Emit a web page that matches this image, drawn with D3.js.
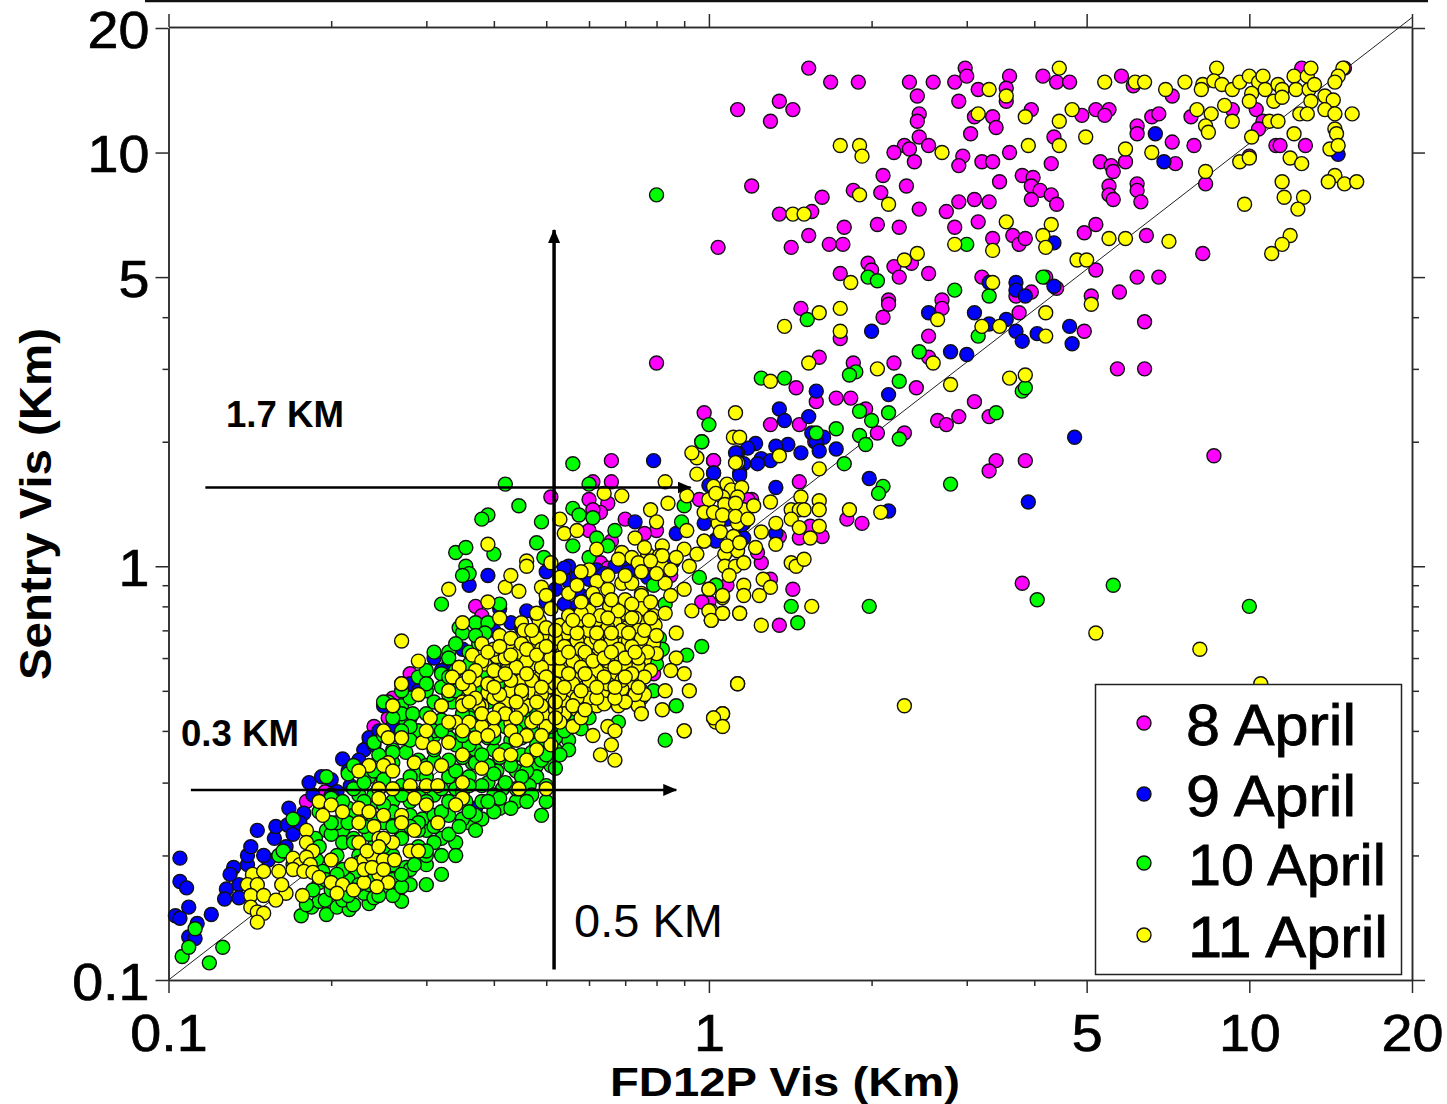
<!DOCTYPE html>
<html>
<head>
<meta charset="utf-8">
<title>Sentry vs FD12P visibility</title>
<script src="https://cdnjs.cloudflare.com/ajax/libs/d3/7.8.5/d3.min.js"></script>
<style>
body { margin: 0; background: #fff; }
svg { display: block; font-family: "Liberation Sans", Arial, sans-serif; }
.axis path, .axis line { stroke: #2b2b2b; stroke-width: 1.5; }
.axis text { font-size: 52px; fill: #000; stroke: #000; stroke-width: 0.7; }
</style>
</head>
<body>
<svg id="chart"></svg>
<script>
"use strict"

const WIDTH = 1447;
const HEIGHT = 1104;
const FRAME = { left: 168.5, right: 1412, top: 28, bottom: 980 };
const POINT_R = 7;

const MAJOR_TICKS = [0.1, 1, 5, 10, 20];
const MINOR_TICKS = [0.2, 0.3, 0.4, 0.5, 0.6, 0.7, 0.8, 0.9, 2, 3, 4];
const LEGEND_NAMES = ["8 April", "9 April", "10 April", "11 April"];
const COLORS = ["#ff00ff", "#0000ff", "#00ff00", "#ffff00"];
const REF_LINE = [[0.1, 0.1], [20, 21.2]];

// [FD12P km, Sentry km]
const APRIL_8 = [
[1.53,16],[1.68,14.8],[1.89,14.8],[2.35,14.8],[2.6,14.8],[2.85,14.8],[2.98,16],[3,15.3],[3.6,15.3],[4.15,15.3],[4.4,14.8],[4.65,14.8],
[5.8,15.3],[6.1,14.5],[2.43,13.7],[2.9,13.3],[3.15,14.2],[3.55,14.3],[3.55,13.3],[1.35,13.3],[1.43,12.7],[1.13,12.7],[1.3,11.9],
[2.45,12.4],[2.43,11.9],[3.1,12.2],[3.35,12.2],[3.4,11.5],[3.95,12.7],[3.05,11.1],[4.9,12.3],[5.2,12.7],[5.5,12.7],[5.4,12.3],
[4.35,10.9],[2.45,10.9],[2.55,10.4],[2.3,10.4],[2.2,10],[2.35,10.2],[2.4,9.5],[2.95,9.8],[2.9,9.3],[3.2,9.5],[3.35,9.5],[3.6,10],[4.3,9.4],
[2.1,8.8],[1.2,8.3],[1.85,8.1],[2.08,8],[2.32,8.3],[1.62,7.8],[1.55,7.2],[1.35,7.1],[3.45,8.5],[3.8,8.8],[3.98,8.7],[3.95,8.3],[4.1,8.1],
[4.3,7.9],[3.95,7.7],[4.4,7.5],[5.3,9.5],[5.55,9.3],[5.6,9],[5.9,9.5],[5.5,8.3],[5.5,7.9],[5.6,7.7],[6.2,8.4],[6.2,8.1],[6.3,7.6],
[3.1,7.7],[3.3,7.6],[2.9,7.6],[2.75,7.2],[2.45,7.3],[3.15,6.8],[2.85,6.6],[2.25,6.6],[2.05,6.7],[1.78,6.6],[1.53,6.3],[1.42,5.9],[1.67,6],
[1.77,6],[1.04,5.9],[3.35,6.2],[3.65,6.3],[3.75,6],[3.85,6.2],[4.95,6.4],[5.2,6.7],[6.45,6.3],[8.2,5.7],[6.2,11.6],[6.2,11.1],[6.6,12.2],
[6.8,12.4],[7.2,10.6],[7.9,10.4],[7.3,9.4],[7.8,12.2],[7.2,13.7],[8.3,8.4],[9.3,12.7],[10.3,12.7],[10.6,11.9],[10.4,11.4],[10,9.8],
[11.2,10.4],[11.4,10.4],[12.7,10.4],[12.5,16],[15,16],[1.97,5.4],[2,5.2],[1.75,5.1],[2.2,5.3],[2.25,5],[2.37,5.4],[2.55,5.1],[3.2,5],
[4.2,5],[4.4,4.7],[3.95,4.6],[3.7,4.5],[5.2,5.2],[6.2,5],[6.8,5],[5.75,4.6],[5.1,4.5],[2.15,4.4],[2.7,4.4],[1.48,4.2],[2.15,4.3],[2.1,4],
[2.7,4.2],[3.75,4.1],[4.95,3.7],[6.4,3.9],[1.75,3.55],[2.55,3.6],[1.6,3.2],[1.85,3.1],[2.2,3.1],[2.55,3.2],[5.7,3],[6.4,3],[1.45,2.7],
[1.58,2.5],[1.72,2.55],[1.83,2.55],[1.95,2.4],[2.42,2.7],[3.1,2.5],[2.9,2.3],[2.65,2.25],[2.75,2.2],[3.3,2.3],[1.3,2.2],[1.47,2.2],
[2.05,2.1],[2.3,2.1],[1.57,2],[3.4,1.8],[3.3,1.7],[3.85,1.8],[8.6,1.85],[0.98,2.35],[1.02,1.8],[1.47,1.6],[1.2,1.45],[1.8,1.3],[1.92,1.27],
[1.54,1.25],[1.47,1.17],[1.62,1.18],[1.35,1.18],[1.25,1.02],[1.23,1.08],[1.3,0.93],[1.08,0.9],[1.43,0.88],[3.8,0.91],[1.35,0.72],[1,0.82],
[0.8,3.1],[0.66,1.8],[0.51,1.47],[0.61,1.6],[0.66,1.6],[0.6,1.45],[0.65,1.42],[0.63,1.35],[0.61,1.37],[0.7,1.3],[0.6,1.22],[0.66,1.15],
[0.63,1.02],[0.65,0.99],[0.76,1],[0.8,1.22],[0.76,1.2],[0.85,0.95],[0.96,1.45],[1.02,1.8],[1.18,1.45],[0.97,0.82],[0.7,0.48],[0.79,0.55],
[0.37,0.8],[0.38,0.76],[0.28,0.55],[0.26,0.48],[0.255,0.43],[0.24,0.41],[0.18,0.27],[0.195,0.285]
];

const APRIL_9 = [
[6.7,11.1],[6.95,9.5],[14.6,9.9],[4.35,6.05],[3.3,4.85],[3.7,4.85],[3.7,4.65],[3.85,4.5],[4.35,4.75],[2.55,4.1],[3.1,4.1],[3.3,3.85],
[3.55,3.95],[3.7,3.7],[3.8,3.5],[4.05,3.65],[4.65,3.8],[4.7,3.45],[2,3.7],[2.8,3.3],[3,3.25],[2.15,2.6],[1.58,2.65],[1.35,2.4],[1.38,2.25],
[1.53,2.3],[1.55,2.1],[1.63,2.05],[1.58,2],[1.6,1.9],[1.72,1.92],[1.48,1.88],[1.4,1.97],[1.33,1.95],[1.22,1.98],[1.18,1.93],[1.13,1.88],
[1.25,1.82],[1.3,1.8],[1.23,1.77],[1.16,1.77],[1.14,1.68],[1.02,1.68],[1.33,1.55],[1.98,1.63],[2.15,1.36],[4.75,2.05],[3.9,1.43],[1.33,1.2],
[1.16,1.17],[1.03,1.16],[1.16,1.27],[1,1.57],[0.79,1.8],[0.39,0.95],[0.36,0.9],[1.12,1.88],[1.02,1.68],[1.14,1.66],[0.55,1],[0.54,0.99],
[0.55,0.92],[0.58,0.85],[0.57,0.8],[0.59,0.78],[0.54,0.81],[0.56,0.76],[0.69,1],[0.73,0.99],[0.67,1],[0.62,0.98],[0.73,1.28],[0.86,1.03],
[0.77,0.94],[0.87,1.2],[0.98,1.27],[1.08,1.3],[1.15,1.26],[1.03,1.15],[0.43,0.73],[0.46,0.78],[0.41,0.79],[0.35,0.63],[0.33,0.58],[0.32,0.56],
[0.3,0.52],[0.23,0.36],[0.235,0.37],[0.26,0.41],[0.275,0.4],[0.105,0.197],[0.105,0.173],[0.108,0.167],[0.109,0.15],[0.103,0.143],[0.105,0.141],
[0.113,0.137],[0.109,0.127],[0.112,0.126],[0.12,0.144],[0.128,0.166],[0.127,0.157],[0.135,0.17],[0.135,0.158],[0.132,0.187],[0.13,0.18],
[0.14,0.19],[0.14,0.2],[0.142,0.21],[0.146,0.23],[0.153,0.195],[0.157,0.22],[0.158,0.235],[0.166,0.237],[0.167,0.26],[0.178,0.253],[0.17,0.225],
[0.185,0.28],[0.182,0.3],[0.192,0.31],[0.2,0.305],[0.205,0.285],[0.217,0.295],[0.21,0.342],[0.23,0.36],[0.235,0.385],[0.225,0.34],[0.26,0.41],
[0.27,0.4],[0.37,0.26],[0.25,0.46],[0.28,0.52],[0.31,0.6],
[0.15,0.2],[0.165,0.21],[0.175,0.24],[0.19,0.27],[0.2,0.28],[0.215,0.32],[0.245,0.4],[0.24,0.37],[0.27,0.44],[0.29,0.5],[0.5,0.82],[0.52,0.88],
[0.6,0.84],[0.6,0.93],[0.64,0.96],[0.71,0.97],[0.5,0.97],[0.57,0.94],[0.45,0.71],[0.48,0.76],[0.4,0.7]
];

const APRIL_10 = [
[3,6],[1.97,5],[2.05,4.9],[4.15,5],[2.85,4.65],[3.3,4.5],[1.52,3.95],[3.15,3.6],[2.45,3.3],[1.25,2.85],[1.38,2.85],[1.87,2.95],[1.82,2.9],
[2.25,2.8],[1.9,2.37],[2,2.25],[2.15,2.35],[1.9,2.07],[1.95,1.97],[1.58,2.1],[1.72,2.15],[1.78,1.77],[2.25,2.03],[2.1,1.56],[2.06,1.5],[2.8,1.58],
[3.8,2.65],[3.85,2.7],[3.4,2.35],[1,2.2],[0.97,2],[1.03,0.9],[1.42,0.8],[1.98,0.8],[1.46,0.73],[5.6,0.9],[4.05,0.83],[10,0.8],[0.8,7.9],
[0.56,1.77],[0.42,1.58],[0.6,1.58],[0.445,1.4],[0.39,1.33],[0.38,1.3],[0.49,1.28],[0.56,1.38],[0.575,1.33],[0.61,1.31],[0.48,1.14],[0.56,1.12],
[0.62,1.17],[0.65,1.12],[0.67,1.22],[0.495,1.05],[0.6,1.05],[0.34,1.08],[0.355,1.11],[0.4,1.07],[0.355,1],[0.36,0.96],[0.35,0.95],[0.32,0.81],
[0.345,0.71],[0.35,0.69],[0.37,0.73],[0.41,0.81],[0.31,0.62],[0.33,0.62],[0.33,0.6],[0.39,0.73],[0.385,0.69],[0.36,0.62],[0.365,0.59],[0.375,0.65],
[0.32,0.55],[0.29,0.54],[0.32,0.51],[0.255,0.47],[0.27,0.46],[0.28,0.43],[0.275,0.42],[0.29,0.4],[0.31,0.39],[0.97,0.64],[0.91,0.61],[0.87,0.46],
[0.83,0.38],[0.6,0.43],[0.68,0.42],[0.43,0.38],[0.97,2],[0.9,1.4],[0.89,1.28],[0.79,0.5],[0.83,0.81],[0.79,0.9],[0.96,0.94],[1.03,0.9],
[0.119,0.11],[0.126,0.12],[0.106,0.114],[0.109,0.12],[0.112,0.133],[0.176,0.143],[0.184,0.15],[0.19,0.155],[0.196,0.144],[0.205,0.15],[0.216,0.148],
[0.235,0.153],[0.21,0.156],[0.23,0.162],[0.29,0.195],[0.275,0.187],[0.265,0.178],[0.25,0.165],[0.34,0.215],[0.3,0.23],[0.27,0.225],[0.38,0.245],
[0.49,0.25],[0.38,0.27],[0.355,0.27],[0.33,0.25],[0.295,0.245],[0.196,0.31],[0.16,0.2],[0.163,0.205],[0.196,0.23],[0.187,0.22],[0.21,0.23],
[0.21,0.215],[0.225,0.2],[0.205,0.2],[0.188,0.195],[0.193,0.183],[0.25,0.47],[0.27,0.44],[0.283,0.44],[0.29,0.4],[0.31,0.4],[0.335,0.47],
[0.26,0.36],[0.245,0.35],[0.275,0.355],[0.29,0.34],[0.365,0.335],[0.405,0.32],[0.44,0.32],[0.48,0.33],[0.48,0.31],[0.415,0.29],[0.4,0.28],
[0.465,0.295],[0.225,0.28],[0.215,0.315],[0.235,0.31],[0.32,0.425],[0.365,0.44],[0.44,0.38],[0.49,0.5],[0.47,0.48],[0.51,0.33],[0.25,0.325],
[0.245,0.29],[0.81,0.67],[0.8,0.61],[0.78,0.57],[0.75,0.5],[0.26,0.27],[0.28,0.27],[0.31,0.28],[0.34,0.29],[0.23,0.25],[0.25,0.24],[0.28,0.25],
[0.31,0.25],[0.22,0.22],[0.24,0.21],[0.26,0.2],[0.29,0.21],[0.32,0.22],[0.36,0.24],[0.41,0.26],[0.44,0.27],[0.2,0.17],[0.22,0.18],[0.25,0.18],
[0.28,0.17],[0.3,0.19],[0.27,0.155],[0.26,0.16],[0.3,0.17],[0.32,0.18],[0.215,0.26],[0.24,0.27],[0.39,0.3],[0.43,0.34],[0.52,0.36],[0.55,0.38],
[0.34,0.37],[0.37,0.36],[0.4,0.36],[0.3,0.33],[0.33,0.31],[0.36,0.31],[0.39,0.33],[0.42,0.41],[0.46,0.44],[0.5,0.42],[0.53,0.46],[0.57,0.42],
[0.37,0.5],[0.42,0.52],[0.45,0.55],[0.4,0.58],[0.44,0.64],[0.47,0.61],[0.62,0.52],[0.68,0.57],[0.72,0.62],[0.52,0.66],[0.57,0.71],
// band under the yellow, lower left up to the core
[0.18,0.152],[0.195,0.156],[0.22,0.152],[0.24,0.158],[0.19,0.172],[0.2,0.165],[0.215,0.175],[0.235,0.17],[0.26,0.175],[0.27,0.168],[0.17,0.19],
[0.21,0.185],[0.225,0.192],[0.24,0.188],[0.26,0.19],[0.28,0.185],[0.3,0.2],[0.19,0.21],[0.2,0.225],[0.22,0.215],[0.235,0.225],[0.25,0.21],
[0.27,0.22],[0.29,0.23],[0.31,0.215],[0.33,0.225],[0.17,0.245],[0.19,0.255],[0.205,0.24],[0.22,0.25],[0.24,0.245],[0.26,0.255],[0.29,0.24],
[0.32,0.255],[0.35,0.245],[0.37,0.25],[0.2,0.275],[0.22,0.29],[0.24,0.28],[0.27,0.295],[0.29,0.28],[0.32,0.29],[0.35,0.285],[0.38,0.295],
[0.41,0.275],[0.44,0.29],[0.47,0.28],[0.5,0.295],[0.22,0.33],[0.24,0.32],[0.26,0.335],[0.29,0.315],[0.31,0.34],[0.34,0.32],[0.37,0.335],
[0.4,0.315],[0.43,0.33],[0.46,0.32],[0.49,0.34],[0.52,0.325],[0.24,0.375],[0.26,0.355],[0.28,0.38],[0.31,0.36],[0.33,0.385],[0.36,0.37],
[0.39,0.385],[0.42,0.36],[0.45,0.385],[0.48,0.37],[0.52,0.385],[0.55,0.36],[0.26,0.43],[0.28,0.41],[0.3,0.44],[0.33,0.415],[0.36,0.43],
[0.39,0.405],[0.42,0.445],[0.45,0.42],[0.48,0.44],[0.51,0.41],[0.55,0.43],[0.58,0.405],[0.28,0.48],[0.3,0.5],[0.33,0.49],[0.36,0.515],[0.39,0.47],
[0.43,0.5],[0.47,0.52],[0.51,0.475],[0.55,0.5],[0.6,0.47],[0.65,0.49],[0.7,0.47],[0.75,0.48],[0.3,0.56],[0.33,0.54],[0.36,0.58],[0.4,0.55],
[0.44,0.59],[0.5,0.56],[0.56,0.6],[0.62,0.57],[0.68,0.59],[0.74,0.55],[0.8,0.58],[0.34,0.65],[0.37,0.68],[0.41,0.63],[0.46,0.69],[0.52,0.62],
[0.6,0.66],[0.68,0.62],[0.76,0.67],[0.82,0.63],
// gaps still showing white in the band
[0.185,0.165],[0.195,0.175],[0.205,0.18],[0.215,0.16],[0.225,0.17],[0.245,0.16],[0.24,0.175],[0.27,0.18],[0.285,0.19],[0.3,0.205],[0.32,0.2],[0.34,0.2],
[0.31,0.235],[0.345,0.235],[0.37,0.23],[0.4,0.255],[0.43,0.26],[0.46,0.27],[0.5,0.27],[0.2,0.24],[0.215,0.24],[0.23,0.235],[0.26,0.235],[0.28,0.235],
[0.21,0.27],[0.23,0.27],[0.25,0.265],[0.27,0.28],[0.3,0.27],[0.33,0.27],[0.36,0.255],[0.36,0.295],[0.39,0.27],[0.42,0.3],[0.45,0.31],[0.23,0.3],[0.25,0.305],
[0.28,0.31],[0.3,0.31],[0.33,0.34],[0.35,0.345],[0.38,0.35],[0.41,0.345],[0.45,0.35],[0.47,0.355],[0.5,0.35],[0.53,0.35],[0.54,0.4],[0.25,0.39],[0.27,0.4],
[0.3,0.38],[0.32,0.4],[0.35,0.39],[0.37,0.41],[0.4,0.385],[0.44,0.4],[0.47,0.4],[0.27,0.5],[0.31,0.47],[0.34,0.5],[0.35,0.44],[0.3,0.52],[0.34,0.56],[0.38,0.55],[0.42,0.48]
];

const APRIL_11 = [
[4.45,16],[3.3,14.2],[3.55,13.7],[3.15,12.4],[3.85,12.2],[4.7,12.7],[4.45,11.9],[5.4,14.8],[6.15,14.8],[6.4,14.8],[7.6,14.8],[8.2,14.6],[8.15,14.2],
[8.7,16],[7,14.2],[8,12.7],[8.5,12.4],[9.3,11.9],[9,13],[8.3,11.6],[8.4,11.2],[8.6,14.9],[8.9,14.6],[9.3,14.2],[9.6,14.8],[10,15.3],[10.4,14.8],
[10.6,15.3],[10.1,13.9],[10,13.3],[10.7,14.2],[11.1,13.3],[11.3,14.6],[11.5,14.2],[11.5,13.6],[12.1,15.3],[12.2,14.2],[12.8,15.3],[13,16],[12.9,14.2],
[13.2,14.6],[13,13.3],[13.8,13.7],[14.3,13.4],[13.8,12.7],[14.4,12.4],[12.4,12.4],[12.8,12.4],[15.5,12.4],[14.4,11.4],[14.5,11.1],[12.1,11.1],
[10.9,11.9],[11.3,11.9],[10.1,10.9],[9.6,9.5],[10,9.7],[11.9,9.7],[12.5,9.4],[14.1,10.2],[14.6,10.4],[8.3,9],[11.5,8.5],[14.4,8.8],[14,8.5],[15,8.4],
[15.8,8.5],[11.6,7.8],[12.6,7.8],[12.3,7.3],[9.8,7.5],[11.9,6.3],[11.5,6],[11,5.7],[14.9,16],[14.6,15.3],[14.4,14.8],[1.75,10.4],[1.9,10.4],[1.92,9.8],
[2.7,10],[3.9,10.4],[4.45,10.4],[4.98,10.9],[5.9,10.2],[6.6,10],[1.9,7.9],[2.15,7.5],[1.43,7.1],[1.5,7.1],[3.55,6.8],[4.3,6.7],[4.15,6.3],[4.2,5.9],
[2.85,6],[3.35,5.8],[5.5,6.2],[5.9,6.2],[7.1,6.1],[4.8,5.5],[5,5.5],[2.3,5.5],[2.43,5.7],[1.83,4.85],[3.35,4.85],[1.6,4.1],[1.75,4.2],[1.38,3.8],
[1.75,3.7],[2.65,3.95],[3.2,3.8],[3.45,3.8],[4.2,4.1],[5.1,4.3],[4.2,3.6],[1.53,3.1],[2.05,3],[2.6,3.1],[1.3,2.8],[2.8,2.75],[3.6,2.85],[3.85,2.9],
[1.12,2.35],[1.11,2.05],[1.14,2.05],[1.35,1.85],[1.13,1.78],[1.6,1.72],[1.3,1.43],[1.48,1.47],[1.6,1.44],[1.42,1.37],[1.47,1.37],[1.5,1.37],[1.6,1.37],
[1.82,1.37],[2.08,1.35],[1.42,1.3],[1.47,1.24],[1.33,1.27],[1.6,1.25],[1.54,1.17],[1.25,1.21],[1.33,1.13],[1.22,1.11],[1.42,1.02],[1.45,1],[1.5,1.04],
[1.07,1.07],[1.13,1.09],[1.07,1],[1.12,1],[1.16,1.02],[1.09,0.95],[1.26,0.93],[1.16,0.9],[1.3,0.89],[1.24,0.85],[1.16,0.85],[1.06,0.84],[1,0.88],
[1.55,0.8],[1.14,0.77],[1.06,0.77],[1.01,0.78],[1.01,0.74],[1.25,0.72],[5.2,0.69],[1.02,1.56],[1.08,1.58],[1.1,1.53],[1.15,1.55],[1,1.45],[1.06,1.47],
[1.13,1.47],[0.98,1.35],[1.09,1.35],[1.16,1.37],[1.04,1.27],[1.13,1.27],[0.98,1.15],[1.05,1.21],[1.11,1.18],[10.5,0.52],[8.1,0.63],[2.3,0.46],[1.13,0.52],
[1.02,0.43],[1.06,0.44],[1.03,0.42],[0.9,0.4],[0.27,0.66],[0.29,0.59],[0.27,0.52],[0.29,0.49],[0.26,0.46],[0.33,0.88],[0.39,0.82],[0.39,1.13],[0.35,0.73],
[0.41,0.75],[0.42,0.89],[0.43,0.95],[0.445,0.87],[0.46,1.03],[0.46,1],[0.49,0.89],[0.5,0.85],[0.51,1.02],[0.53,0.94],[0.55,0.86],[0.57,0.9],[0.53,1.3],
[0.54,1.2],[0.57,1.22],[0.64,1.5],[0.69,1.48],[0.62,1.1],[0.6,0.98],[0.83,1.6],[0.78,1.37],[0.84,1.42],[0.91,1.48],[0.95,1.83],[0.93,1.88],[0.95,1.67],
[1.12,1.78],[0.8,1.28],[0.91,1.22],[0.98,1.15],[0.9,1.1],[0.95,1.07],[0.82,1.12],[0.77,1.07],[0.73,1.17],[0.69,1.08],[0.76,1.11],[0.72,1.05],[0.81,1.06],
[0.82,1],[0.83,0.91],[0.92,1],[0.9,0.88],[1,0.88],[1.06,0.85],[0.93,0.78],[1,0.78],[1.06,0.77],[1.14,0.77],[1.01,0.74],[0.69,0.91],[0.72,0.91],[0.62,0.92],
[0.65,0.88],[0.61,0.86],[0.7,0.83],[0.75,0.86],[0.65,0.77],[0.67,0.75],[0.79,0.76],[0.83,0.77],[0.78,0.7],[0.87,0.69],[0.73,0.78],[0.75,0.85],[0.87,0.6],
[0.9,0.55],[0.92,0.5],[0.83,0.5],[0.85,0.56],[1.13,0.52],[1.06,0.44],[1.02,0.43],[1.06,0.41],[0.9,0.4],[0.82,0.45],[0.74,0.46],[0.75,0.44],[0.68,0.46],
[0.76,0.49],[0.67,0.5],[0.73,0.54],[0.62,0.46],[0.57,0.47],[0.54,0.44],[0.56,0.41],[0.61,0.39],[0.65,0.41],[0.66,0.37],[0.67,0.4],[0.63,0.35],[0.67,0.34],
// dense core
[0.51,0.79],[0.6,0.78],[0.655,0.8],[0.7,0.77],[0.75,0.79],[0.45,0.73],[0.485,0.74],[0.53,0.72],[0.575,0.74],[0.62,0.72],[0.67,0.735],[0.705,0.71],[0.745,0.73],[0.795,0.72],
[0.41,0.68],[0.455,0.7],[0.5,0.68],[0.545,0.69],[0.595,0.67],[0.64,0.695],[0.685,0.67],[0.725,0.68],[0.77,0.665],[0.38,0.65],[0.43,0.64],[0.47,0.66],[0.515,0.65],[0.56,0.64],
[0.605,0.655],[0.65,0.635],[0.695,0.65],[0.75,0.64],[0.79,0.65],[0.365,0.61],[0.405,0.605],[0.445,0.62],[0.49,0.6],[0.535,0.615],[0.58,0.6],[0.625,0.615],[0.67,0.6],[0.715,0.61],
[0.76,0.595],[0.8,0.615],[0.345,0.57],[0.385,0.58],[0.425,0.565],[0.47,0.58],[0.51,0.56],[0.55,0.575],[0.6,0.56],[0.645,0.575],[0.69,0.56],[0.74,0.575],[0.78,0.56],[0.335,0.54],
[0.37,0.53],[0.41,0.545],[0.45,0.53],[0.49,0.545],[0.535,0.53],[0.58,0.54],[0.62,0.525],[0.665,0.54],[0.71,0.525],[0.76,0.54],[0.33,0.5],[0.36,0.505],[0.39,0.495],[0.43,0.51],
[0.47,0.495],[0.505,0.51],[0.55,0.495],[0.59,0.51],[0.635,0.495],[0.69,0.505],[0.73,0.49],[0.32,0.46],[0.35,0.47],[0.38,0.46],[0.42,0.47],[0.46,0.46],[0.5,0.475],[0.54,0.47],
[0.6,0.48],[0.64,0.465],[0.7,0.47],[0.27,0.52],[0.29,0.49],[0.26,0.46],[0.32,0.46],[0.35,0.46],[0.375,0.46],[0.4,0.48],[0.42,0.47],[0.41,0.45],[0.43,0.5],[0.49,0.52],
[0.305,0.43],[0.34,0.42],[0.36,0.42],[0.38,0.41],[0.43,0.42],[0.47,0.42],[0.46,0.39],[0.4,0.4],[0.54,0.44],[0.5,0.44],[0.25,0.4],[0.255,0.385],[0.27,0.385],[0.295,0.375],
[0.33,0.375],[0.37,0.385],[0.31,0.365],[0.48,0.36],[0.51,0.37],[0.41,0.35],[0.43,0.35],[0.46,0.34],[0.285,0.335],[0.3,0.325],[0.32,0.33],[0.255,0.335],[0.25,0.33],[0.235,0.33],
[0.225,0.32],[0.26,0.32],[0.38,0.325],[0.28,0.295],[0.3,0.295],[0.315,0.295],[0.35,0.3],[0.245,0.29],[0.26,0.29],[0.445,0.29],[0.5,0.29],[0.285,0.275],[0.35,0.275],[0.245,0.275],
[0.19,0.27],[0.2,0.265],[0.193,0.25],[0.21,0.255],[0.225,0.26],[0.3,0.265],[0.34,0.265],[0.235,0.255],[0.27,0.25],[0.25,0.25],[0.225,0.24],[0.27,0.24],[0.315,0.24],[0.18,0.23],
[0.285,0.23],[0.24,0.235],[0.245,0.22],[0.225,0.215],[0.26,0.215],[0.25,0.22],[0.17,0.197],[0.18,0.215],[0.175,0.19],[0.185,0.205],[0.18,0.198],[0.183,0.19],[0.17,0.185],
[0.178,0.183],[0.185,0.182],[0.19,0.177],[0.177,0.16],[0.165,0.162],[0.2,0.195],[0.2,0.172],[0.21,0.17],[0.205,0.162],[0.22,0.165],[0.23,0.172],[0.245,0.18],[0.255,0.172],
[0.243,0.168],[0.218,0.19],[0.23,0.195],[0.238,0.2],[0.25,0.195],[0.262,0.195],[0.23,0.185],[0.238,0.187],[0.25,0.185],[0.28,0.205],[0.29,0.205],[0.233,0.205],[0.245,0.21],
[0.143,0.18],[0.15,0.183],[0.16,0.183],[0.14,0.17],[0.146,0.17],[0.162,0.17],[0.142,0.16],[0.15,0.16],[0.158,0.156],[0.142,0.15],[0.146,0.146],[0.15,0.145],[0.146,0.138],
// second pass over the packed middle
[0.48,0.77],[0.55,0.76],[0.58,0.77],[0.63,0.76],[0.68,0.78],[0.73,0.75],[0.5,0.71],[0.55,0.71],[0.6,0.7],[0.65,0.71],[0.69,0.7],[0.74,0.7],[0.43,0.67],[0.48,0.67],
[0.52,0.67],[0.57,0.66],[0.62,0.67],[0.66,0.66],[0.71,0.66],[0.75,0.67],[0.4,0.63],[0.45,0.65],[0.49,0.63],[0.54,0.64],[0.58,0.63],[0.63,0.64],[0.68,0.63],[0.72,0.64],[0.77,0.62],
[0.38,0.59],[0.42,0.6],[0.46,0.59],[0.51,0.6],[0.56,0.59],[0.6,0.6],[0.65,0.59],[0.7,0.58],[0.74,0.6],[0.37,0.56],[0.4,0.56],[0.44,0.57],[0.49,0.57],[0.53,0.56],[0.58,0.57],
[0.62,0.56],[0.67,0.57],[0.72,0.55],[0.35,0.52],[0.39,0.52],[0.43,0.53],[0.47,0.53],[0.52,0.52],[0.56,0.52],[0.6,0.53],[0.65,0.52],[0.69,0.53],[0.74,0.51],[0.37,0.48],[0.41,0.49],
[0.45,0.49],[0.49,0.49],[0.53,0.49],[0.57,0.48],[0.62,0.48],[0.67,0.48],[0.38,0.44],[0.42,0.44],[0.45,0.45],[0.49,0.46],[0.52,0.45],[0.57,0.45],[0.35,0.4],[0.39,0.39],[0.43,0.4],
[0.5,0.41],[0.53,0.42],[0.58,0.43],[0.82,1.06],[0.87,1.05],[0.74,1.02],[0.78,1.03],[0.68,1.04],[0.65,0.95],[0.7,0.95],[0.75,0.97],[0.8,0.96],[0.85,0.98],[0.58,0.97],[0.62,0.83],
[0.66,0.83],[0.72,0.81],[0.78,0.82],[0.85,0.85],[0.58,0.82],[1.02,1.35],[1.07,1.41],[1.03,1.5],[1.12,1.42],[1.06,1.33],[1.12,1.32],[1.18,1.3],[1.21,1.4],[1.08,1.12],[1.14,1.14],
// third pass, between the earlier rows
[0.39,0.62],[0.41,0.64],[0.43,0.61],[0.46,0.63],[0.48,0.61],[0.5,0.64],[0.53,0.6],[0.55,0.62],[0.59,0.62],[0.61,0.59],[0.64,0.6],[0.66,0.62],[0.7,0.6],[0.73,0.62],[0.47,0.7],[0.52,0.7],
[0.57,0.69],[0.62,0.69],[0.66,0.69],[0.71,0.69],[0.76,0.7],[0.8,0.68],[0.56,0.74],[0.6,0.74],[0.65,0.75],[0.72,0.75],[0.78,0.75],[0.42,0.55],[0.46,0.55],[0.5,0.54],[0.55,0.55],[0.59,0.55],
[0.64,0.54],[0.7,0.54],[0.36,0.54],[0.4,0.51],[0.45,0.5],[0.49,0.51],[0.54,0.51],[0.58,0.5],[0.62,0.51],[0.67,0.51],[0.36,0.47],[0.44,0.47],[0.48,0.47],[0.52,0.47],[0.56,0.46],[0.59,0.45],
[0.4,0.43],[0.44,0.43],[0.48,0.43],[0.52,0.43],[0.44,0.38],[0.49,0.39],[0.3,0.4],[0.33,0.42],[0.35,0.35]
];

const SERIES = [APRIL_8, APRIL_9, APRIL_10, APRIL_11];

const x = d3.scaleLog([0.1, 20], [FRAME.left, FRAME.right]);
const y = d3.scaleLog([0.1, 20], [FRAME.bottom, FRAME.top]);

const svg = d3.select("#chart").attr("width", WIDTH).attr("height", HEIGHT);

svg.append("defs").append("marker")
    .attr("id", "head")
    .attr("viewBox", "0 0 14 12")
    .attr("refX", 13).attr("refY", 6)
    .attr("markerWidth", 14).attr("markerHeight", 12)
    .attr("markerUnits", "userSpaceOnUse")
    .attr("orient", "auto")
    .append("path").attr("d", "M0,0L14,6L0,12Z").attr("fill", "#000");

// Top rule of the clipped slide
svg.append("line").attr("x1", 145).attr("x2", 1428).attr("y1", 1).attr("y2", 1)
    .attr("stroke", "#111").attr("stroke-width", 2.5);

// Diagonal goes under the points
svg.append("path")
    .attr("d", d3.line().x(d => x(d[0])).y(d => y(d[1]))(REF_LINE))
    .attr("fill", "none").attr("stroke", "#222").attr("stroke-width", 1);

function drawAxis(axis, transform, labels) {
    const g = svg.append("g").attr("class", "axis").attr("transform", transform).call(axis);
    if (!labels) {
        g.selectAll("text").remove();
    } else {
        // the original digits are a bit wider than Liberation at this height
        g.selectAll("text")
            .attr("lengthAdjust", "spacingAndGlyphs")
            .attr("textLength", function () { return this.getComputedTextLength() * 1.07; });
    }
    return g;
}

const noFormat = () => "";
const fmt = d => String(d);

drawAxis(d3.axisLeft(y).tickValues(MAJOR_TICKS).tickFormat(fmt).tickSize(13).tickPadding(6).tickSizeOuter(0),
    `translate(${FRAME.left},0)`, true)
    .selectAll("text").attr("dy", "0.37em");
drawAxis(d3.axisBottom(x).tickValues(MAJOR_TICKS).tickFormat(fmt).tickSize(13).tickPadding(21).tickSizeOuter(0),
    `translate(0,${FRAME.bottom})`, true);
drawAxis(d3.axisRight(y).tickValues(MAJOR_TICKS).tickFormat(noFormat).tickSize(13).tickSizeOuter(0),
    `translate(${FRAME.right},0)`, false);
drawAxis(d3.axisTop(x).tickValues(MAJOR_TICKS).tickFormat(noFormat).tickSize(13).tickSizeOuter(0),
    `translate(0,${FRAME.top - 1})`, false);
drawAxis(d3.axisLeft(y).tickValues(MINOR_TICKS).tickFormat(noFormat).tickSize(6).tickSizeOuter(0),
    `translate(${FRAME.left},0)`, false);
drawAxis(d3.axisBottom(x).tickValues(MINOR_TICKS).tickFormat(noFormat).tickSize(6).tickSizeOuter(0),
    `translate(0,${FRAME.bottom})`, false);
drawAxis(d3.axisRight(y).tickValues(MINOR_TICKS).tickFormat(noFormat).tickSize(7).tickSizeOuter(0),
    `translate(${FRAME.right},0)`, false);
drawAxis(d3.axisTop(x).tickValues(MINOR_TICKS).tickFormat(noFormat).tickSize(6).tickSizeOuter(0),
    `translate(0,${FRAME.top - 1})`, false);

// Axis titles
svg.append("text").text("FD12P Vis (Km)")
    .attr("x", 785).attr("y", 1095.5).attr("text-anchor", "middle")
    .attr("font-size", 40).attr("font-weight", "bold")
    .attr("textLength", 350).attr("lengthAdjust", "spacingAndGlyphs");
svg.append("text").text("Sentry Vis (Km)")
    .attr("transform", "translate(51,504) rotate(-90)").attr("text-anchor", "middle")
    .attr("font-size", 44).attr("font-weight", "bold")
    .attr("textLength", 352).attr("lengthAdjust", "spacingAndGlyphs");

// Points, day by day so later days cover earlier ones
SERIES.forEach((pts, i) => {
    svg.append("g").selectAll("circle").data(pts).join("circle")
        .attr("cx", d => x(d[0]))
        .attr("cy", d => y(d[1]))
        .attr("r", POINT_R)
        .attr("fill", COLORS[i])
        .attr("stroke", "#111")
        .attr("stroke-width", 1.4);
});

// Threshold arrows pasted on top
const ARROWS = [
    { x1: 0.117, y1: 1.55, x2: 0.925, y2: 1.55, w: 2.5 },
    { x1: 0.11, y1: 0.288, x2: 0.87, y2: 0.288, w: 2.5 },
    { x1: 0.517, y1: 0.106, x2: 0.517, y2: 6.5, w: 3.5 }
];
svg.append("g").selectAll("line").data(ARROWS).join("line")
    .attr("x1", d => x(d.x1)).attr("y1", d => y(d.y1))
    .attr("x2", d => x(d.x2)).attr("y2", d => y(d.y2))
    .attr("stroke", "#000").attr("stroke-width", d => d.w)
    .attr("marker-end", "url(#head)");

svg.append("text").text("1.7 KM").attr("x", 226).attr("y", 427)
    .attr("font-size", 36).attr("font-weight", "bold")
    .attr("textLength", 118).attr("lengthAdjust", "spacingAndGlyphs");
svg.append("text").text("0.3 KM").attr("x", 181).attr("y", 746)
    .attr("font-size", 36).attr("font-weight", "bold")
    .attr("textLength", 118).attr("lengthAdjust", "spacingAndGlyphs");
svg.append("text").text("0.5 KM").attr("x", 574).attr("y", 937)
    .attr("font-size", 47);

// Legend
const legend = svg.append("g");
legend.append("rect").attr("x", 1095.5).attr("y", 684.5).attr("width", 306).attr("height", 290)
    .attr("fill", "#fff").attr("stroke", "#222").attr("stroke-width", 1.5);
const LEGEND_Y = [723, 794, 863, 935];
const LEGEND_X = [1186, 1186, 1188, 1188];
const LEGEND_W = [170, 170, 198, 200];
LEGEND_NAMES.forEach((name, i) => {
    legend.append("circle").attr("cx", 1144).attr("cy", LEGEND_Y[i]).attr("r", POINT_R)
        .attr("fill", COLORS[i]).attr("stroke", "#111").attr("stroke-width", 1.4);
    legend.append("text").text(name)
        .attr("x", LEGEND_X[i]).attr("y", LEGEND_Y[i] + 22)
        .attr("font-size", 57).attr("stroke", "#000").attr("stroke-width", 0.8)
        .attr("textLength", LEGEND_W[i]).attr("lengthAdjust", "spacingAndGlyphs");
});
</script>
</body>
</html>
